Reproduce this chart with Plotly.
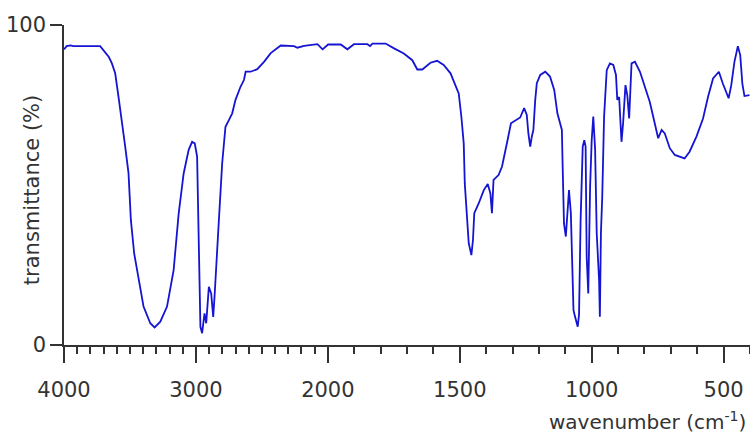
import plotly.graph_objects as go

# ---- data ----
wavenumber = [
    4000, 3980, 3950, 3930, 3726, 3701, 3660, 3637, 3612, 3587, 3561, 3536, 3511,
    3493, 3468, 3435, 3397, 3346, 3313, 3270, 3219, 3169, 3131, 3093, 3055, 3029,
    3009, 2991, 2980, 2966, 2953, 2935, 2922, 2902, 2884, 2869, 2859, 2844, 2826,
    2801, 2776, 2750, 2725, 2700, 2662, 2636, 2623, 2585, 2535, 2484, 2433, 2357,
    2256, 2231, 2180, 2079, 2040, 1999, 1951, 1926, 1901, 1850, 1840, 1831, 1781,
    1749, 1712, 1680, 1661, 1642, 1611, 1586, 1561, 1535, 1516, 1504, 1494, 1485,
    1481, 1475, 1466, 1456, 1450, 1445, 1428, 1409, 1394, 1384, 1378, 1372, 1353,
    1340, 1328, 1319, 1306, 1290, 1271, 1256, 1246, 1240, 1233, 1227, 1221, 1214,
    1208, 1195, 1176, 1158, 1142, 1130, 1113, 1110, 1105, 1098, 1092, 1086, 1079,
    1069, 1063, 1053, 1048, 1042, 1034, 1028, 1023, 1019, 1013, 1006, 1000, 994,
    987, 981, 972, 969, 965, 960, 953, 943, 931, 918, 908, 903, 896, 887, 881,
    872, 865, 858, 849, 836, 817, 799, 780, 767, 754, 748, 735, 723, 704, 685,
    648, 629, 603, 578, 559, 540, 518, 503, 481, 471, 459, 446, 437, 429, 421, 402,
]
transmittance = [
    92.4, 93.4, 93.6, 93.4, 93.4, 92.2, 90.0, 88.0, 84.9, 77.6, 70.3, 62.0, 53.7,
    39.0, 28.6, 20.3, 12.0, 6.8, 5.5, 7.3, 12.0, 23.4, 41.0, 53.6, 61.0, 63.5,
    63.0, 58.9, 30.0, 5.7, 3.7, 9.9, 6.8, 18.2, 16.0, 8.8, 15.0, 24.5, 39.0,
    56.8, 68.2, 70.3, 72.4, 76.6, 80.7, 82.8, 85.4, 85.4, 86.2, 88.5, 91.2, 93.6,
    93.4, 92.9, 93.5, 94.0, 92.4, 93.9, 93.9, 92.4, 94.0, 94.0, 93.4, 94.2, 94.2,
    92.7, 91.1, 89.0, 86.1, 86.1, 88.2, 88.8, 87.5, 84.9, 80.7, 78.6, 71.4, 63.0,
    50.5, 41.7, 31.8, 28.1, 32.8, 41.2, 44.3, 48.4, 50.3, 47.4, 41.2, 51.6, 53.1,
    55.7, 61.0, 64.0, 69.3, 70.1, 71.1, 74.0, 71.9, 66.1, 62.0, 65.1, 67.2, 76.6,
    81.8, 84.4, 85.4, 83.9, 79.7, 72.4, 67.2, 55.7, 38.0, 33.9, 43.0, 48.4, 41.2,
    10.9, 8.8, 5.7, 9.5, 39.0, 62.0, 64.0, 62.0, 27.6, 16.1, 49.5, 64.0, 71.4,
    61.0, 35.0, 20.3, 8.8, 35.0, 46.4, 71.4, 85.9, 88.0, 87.5, 84.4, 76.6, 77.5, 63.5, 69.3,
    81.2, 78.0, 70.8, 88.0, 88.5, 85.4, 80.7, 76.0, 71.4, 66.1, 64.6, 67.2, 66.1, 61.5, 59.4,
    58.3, 60.4, 65.1, 70.8, 77.6, 83.3, 85.4, 81.7, 77.1, 81.2, 88.5, 93.4, 90.6, 81.7, 77.8, 78.1,
]
major_ticks = [4000, 3000, 2000, 1500, 1000, 500]
minor_ticks = [w for w in range(3900, 399, -100) if w not in major_ticks]
y_ticks = [0, 100]
x_title = "wavenumber (cm<sup>-1</sup>)"
y_title = "transmittance (%)"


# IR spectra use a scale change at 2000 cm-1 (4000-2000 compressed 2x)
def to_axis(w):
    return (4000 - w) / 2 if w >= 2000 else 1000 + (2000 - w)


xu = [to_axis(w) for w in wavenumber]

TXT = "#333333"
FONT = "DejaVu Sans"

fig = go.Figure()
fig.add_trace(go.Scatter(
    x=xu, y=transmittance, mode="lines",
    line=dict(color="#1414d2", width=1.8),
    hoverinfo="skip", showlegend=False,
))

fig.update_layout(
    width=750, height=436,
    margin=dict(l=64, r=0, t=25, b=91),
    paper_bgcolor="white", plot_bgcolor="white",
    font=dict(family=FONT, size=21, color=TXT),
    xaxis=dict(
        range=[0, to_axis(400)],
        tickmode="array",
        tickvals=[to_axis(w) for w in major_ticks],
        ticktext=[str(w) for w in major_ticks],
        ticks="outside", ticklen=16, tickwidth=1.5, tickcolor=TXT,
        minor=dict(tickmode="array", tickvals=[to_axis(w) for w in minor_ticks],
                   ticks="outside", ticklen=7, tickwidth=1.5, tickcolor=TXT),
        showline=True, linecolor=TXT, linewidth=1.5,
        showgrid=False, zeroline=False,
        ticklabelstandoff=9,
        tickfont=dict(family=FONT, size=21, color=TXT),
    ),
    yaxis=dict(
        range=[0, 100],
        tickmode="array", tickvals=y_ticks, ticktext=[str(v) for v in y_ticks],
        ticks="outside", ticklen=12, tickwidth=1.5, tickcolor=TXT,
        showline=True, linecolor=TXT, linewidth=1.5,
        showgrid=False, zeroline=False,
        tickfont=dict(family=FONT, size=21, color=TXT),
    ),
    annotations=[
        dict(text=y_title, xref="paper", yref="paper", x=-0.0466, y=0.484,
             xanchor="center", yanchor="middle", textangle=-90, showarrow=False,
             font=dict(family=FONT, size=21, color=TXT)),
        dict(text=x_title, xref="paper", yref="paper", x=0.995, y=-0.2375,
             xanchor="right", yanchor="middle", showarrow=False, borderpad=0,
             font=dict(family=FONT, size=20, color=TXT)),
    ],
)

fig.write_html("out.html")
